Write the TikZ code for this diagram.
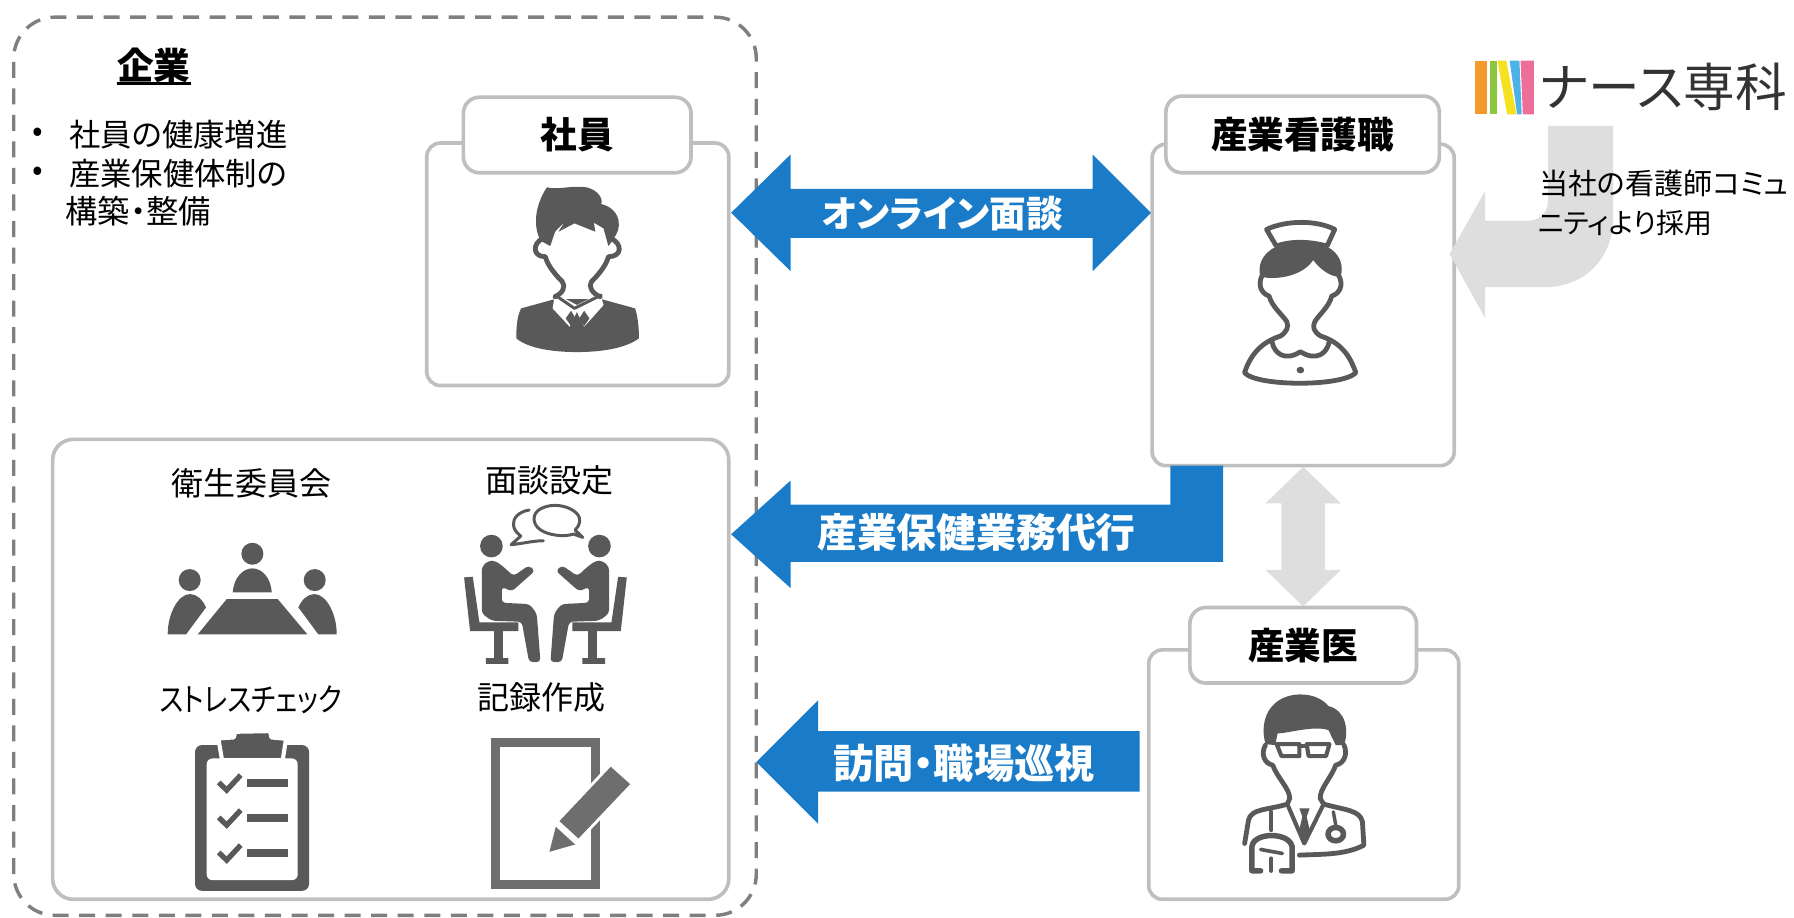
\documentclass[tikz,border=0pt]{standalone}
\usepackage{fontspec}
\setmainfont[RawFeature=+palt]{Noto Sans CJK JP}
\newfontfamily\narrowcjk[RawFeature=+palt,FakeStretch=0.83]{Noto Sans CJK JP}
\definecolor{edge}{HTML}{BFBFBF}
\definecolor{dashc}{HTML}{7F7F7F}
\definecolor{blueA}{HTML}{1A7CC8}
\definecolor{softg}{HTML}{DEDEDE}
\definecolor{ico}{HTML}{595959}
\definecolor{icoB}{HTML}{6E6E6E}
\definecolor{lgO}{HTML}{F39A2B}
\definecolor{lgG}{HTML}{8CC63F}
\definecolor{lgY}{HTML}{F5E11F}
\definecolor{lgB}{HTML}{4DB3E6}
\definecolor{lgP}{HTML}{EE6E9A}
\tikzset{
  panel/.style={draw=edge,line width=1.6pt,fill=white,rounded corners=6pt,inner sep=0pt,minimum width=#1},
  tagbox/.style={draw=edge,line width=1.6pt,fill=white,rounded corners=7pt,inner sep=0pt,font=\fontsize{16}{16}\selectfont\bfseries},
  bluearrow/.style={fill=blueA,draw=none},
  softarrow/.style={fill=softg,draw=none},
  wlabel/.style={text=white,inner sep=0pt,font=\bfseries},
  plain/.style={inner sep=0pt,font=\fontsize{13.7}{13.7}\selectfont},
  icofill/.style={fill=ico,draw=none},
  icoline/.style={draw=ico,fill=none,line cap=round,line join=round},
}
\begin{document}
\begin{tikzpicture}[x=0.5pt,y=-0.5pt]
\useasboundingbox (0,0) rectangle (1568,801.5);
% outer dashed
\draw[dashc,line width=1.5pt,dash pattern=on 7pt off 4.6pt,rounded corners=18pt] (12,800) rectangle (661,15);
% inner panel
\draw[edge,line width=1.6pt,fill=white,rounded corners=9pt] (46,384) rectangle (637,786);
\node[inner sep=0pt,font=\fontsize{16}{16}\selectfont\bfseries] (kigyo) at (134.5,57) {企業};
\draw[black,line width=1pt] (102,73) -- (167,73);
\node[plain,anchor=center] (b1) at (33,118) {•};
\node[plain,anchor=center] (b2) at (33,152) {•};
\node[plain,anchor=west] (t1) at (60,118) {社員の健康増進};
\node[plain,anchor=west] (t2) at (60,152) {産業保健体制の};
\node[plain,anchor=west,font=\fontsize{14.1}{14.1}\selectfont] (t3) at (57,185) {構築・整備};
% staff box
\node[panel=264*0.5pt,minimum height=106pt] (shainbox) at (505,231) {};
\node[tagbox,minimum width=99.5pt,minimum height=33pt] (shain) at (504.5,118) {社員};
% nurse box
\node[panel=264*0.5pt,minimum height=140.5pt] (kangobox) at (1139,266.5) {};
\node[tagbox,minimum width=119.5pt,minimum height=33.5pt] (kango) at (1138.5,117.5) {産業看護職};
% doctor box
\node[panel=271*0.5pt,minimum height=109pt] (ishibox) at (1139.5,677) {};
\node[tagbox,minimum width=99pt,minimum height=33pt] (ishi) at (1139,564) {産業医};
% blue arrows
\path[bluearrow] (639,186) -- (691,135) -- (691,165) -- (955,165) -- (955,135) -- (1006,186) -- (955,237) -- (955,208) -- (691,208) -- (691,237) -- cycle;
\node[wlabel,font=\fontsize{16}{16}\selectfont\bfseries] (mendan) at (823.5,187) {オンライン面談};
\path[bluearrow] (639,467) -- (691,420) -- (691,441) -- (1023,441) -- (1023,407) -- (1069,407) -- (1069,491) -- (691,491) -- (691,514) -- cycle;
\node[wlabel,font=\fontsize{17.4}{17.4}\selectfont\bfseries] (daiko) at (853.5,465.5) {産業保健業務代行};
\path[bluearrow] (661,666) -- (715,612) -- (715,639) -- (996,639) -- (996,692) -- (715,692) -- (715,720) -- cycle;
\node[wlabel,font=\fontsize{17.6}{17.6}\selectfont\bfseries] (homon) at (842.5,667) {訪問・職場巡視};
% grey arrows
\path[softarrow] (1139,408) -- (1172,440) -- (1158,440) -- (1158,498) -- (1172,498) -- (1139,530) -- (1106,498) -- (1120,498) -- (1120,440) -- (1106,440) -- cycle;
\path[softarrow] (1267,222) -- (1298,167) -- (1298,193) -- (1335,193) .. controls (1346,193) and (1353,186) .. (1353,175) -- (1353,110) -- (1410,110) -- (1410,190) .. controls (1410,226) and (1385,251) .. (1350,251) -- (1298,251) -- (1298,278) -- cycle;
\node[plain,anchor=west,font=\fontsize{12.7}{12.7}\selectfont] (saiyo1) at (1345,160) {当社の看護師コミュ};
\node[plain,anchor=west,font=\fontsize{12.2}{12.2}\selectfont] (saiyo2) at (1344,195) {ニティより採用};
% logo
\fill[lgO] (1289.5,53) rectangle (1300,100);
\fill[lgG] (1302.5,53) rectangle (1308,100);
\fill[lgY] (1308.8,53) -- (1316.5,53) -- (1325.4,100) -- (1317.3,100) -- cycle;
\fill[lgB] (1319.5,53) -- (1328,53) -- (1330,100) -- (1326,100) -- cycle;
\fill[lgP] (1329,53) -- (1340.6,53) -- (1340.6,100) -- (1331,100) -- cycle;
\node[inner sep=0pt,anchor=west,text=black!80,font=\fontsize{22.6}{22.6}\selectfont] (logo) at (1345,76) {ナース専科};
% item labels
\node[plain,font=\fontsize{14}{14}\selectfont] (eisei) at (219.5,422.5) {衛生委員会};
\node[plain,font=\fontsize{14}{14}\selectfont] (settei) at (480,419.5) {面談設定};
\node[plain,font=\fontsize{14}{14}\narrowcjk\selectfont] (stress) at (219.5,612) {ストレスチェック};
\node[plain,font=\fontsize{14}{14}\selectfont] (kiroku) at (473.5,610) {記録作成};
% ---- icons drawn in zoom-3 coordinates
\begin{scope}[shift={(113.64,393.36)},scale=0.2914]
 % conference
 \fill[ico] (367,311) circle (33);
 \path[icofill] (308,427) .. controls (312,380) and (340,355) .. (367,355) .. controls (394,355) and (422,380) .. (425,427) -- cycle;
 \path[icofill] (290,447) -- (443,447) -- (532,553) -- (203,553) -- cycle;
 \foreach \m/\s in {0/1,733/-1}{
  \begin{scope}[shift={(\m,0)},xscale=\s]
  \fill[ico] (179,390) circle (33);
  \path[icofill] (113,553) .. controls (113,490) and (145,432) .. (180,432) .. controls (202,432) and (218,450) .. (228,472) -- (168,553) -- cycle;
  \end{scope}
 }
 % meeting
 \foreach \m/\s in {0/1,2492/-1}{
  \begin{scope}[shift={(\m,0)},xscale=\s]
  \fill[ico] (1084,288) circle (34);
  \path[icofill,rounded corners=1.6pt] (1055,350) -- (1075,332) -- (1095,332) -- (1120,350) -- (1150,378) -- (1196,346) -- (1215,362) -- (1145,424) -- (1115,410) -- (1115,458) -- (1198,462) -- (1220,490) -- (1231,636) -- (1197,636) -- (1175,515) -- (1085,512) -- (1055,490) -- cycle;
  \path[icofill] (1002,382) -- (1028,380) -- (1048,517) -- (1165,517) -- (1165,543) -- (1118,543) -- (1118,624) -- (1135,624) -- (1135,641) -- (1067,641) -- (1067,624) -- (1092,624) -- (1092,543) -- (1020,543) -- cycle;
  \end{scope}
 }
 \draw[icoline,line width=1.3pt] (1330,252) .. controls (1300,262) and (1255,255) .. (1232,240) .. controls (1205,222) and (1205,190) .. (1232,176) .. controls (1265,158) and (1315,165) .. (1340,190) .. controls (1355,207) and (1350,225) .. (1335,240) -- (1358,262) -- cycle;
 \draw[icoline,line width=1.3pt] (1197,180) .. controls (1165,185) and (1148,205) .. (1150,225) .. controls (1152,240) and (1160,248) .. (1172,258) -- (1143,284) .. controls (1180,280) and (1210,272) .. (1240,272);
 % clipboard
 \fill[ico,rounded corners=3pt] (195,885) rectangle (537,1322);
 \fill[white,rounded corners=2.5pt] (230,925) rectangle (503,1290);
 \path[fill=ico,draw=white,line width=1.8pt,line join=round] (265,865) -- (311,862) -- (316,845) -- (420,843) -- (424,862) -- (468,866) -- (458,930) -- (276,930) -- cycle;
 \foreach \d in {0,105,210}{
  \draw[ico,line width=2.3pt] (266,997+\d) -- (290,1020+\d) -- (332,975+\d);
  \fill[ico] (352,988+\d) rectangle (475,1012+\d);
 }
 % note
 \draw[icoB,line width=4.2pt,fill=white] (1096,877) rectangle (1396,1303);
 \path[fill=icoB,draw=white,line width=2.6pt,line join=miter] (1442,950) -- (1500,1002) -- (1345,1165) -- (1288,1113) -- cycle;
 \fill[white] (1271,1120) -- (1345,1190) -- (1250,1215) -- cycle;
 \path[fill=icoB] (1277,1130) -- (1335,1183) -- (1258,1205) -- cycle;
 \path[fill=icoB] (1442,950) -- (1500,1002) -- (1345,1165) -- (1288,1113) -- cycle;
\end{scope}
% ---- man icon, zoom-1 coordinates
\begin{scope}[xscale=0.4237,yscale=0.2914]
 \path[icofill] (1065,1015) .. controls (1065,970) and (1068,945) .. (1075,925) -- (1145,897) -- (1240,897) -- (1310,925) .. controls (1316,950) and (1318,985) .. (1318,1015) .. controls (1290,1045) and (1240,1056) .. (1190,1056) .. controls (1140,1056) and (1090,1045) .. (1065,1015) -- cycle;
 \path[fill=white] (1145,880) -- (1190,915) -- (1238,880) -- (1245,915) -- (1205,980) -- (1190,935) -- (1175,980) -- (1140,925) -- cycle;
 \path[fill=ico] (1178,932) -- (1187,955) -- (1178,978) -- (1167,955) -- cycle;
 \path[fill=ico] (1205,932) -- (1216,955) -- (1205,978) -- (1195,955) -- cycle;
 \draw[icoline,line width=2.1pt] (1120,715) .. controls (1098,730) and (1098,770) .. (1125,770) .. controls (1130,800) and (1150,830) .. (1160,845) .. controls (1168,860) and (1160,880) .. (1145,890);
 \draw[icoline,line width=2.1pt] (1260,715) .. controls (1284,730) and (1284,770) .. (1255,770) .. controls (1250,800) and (1230,830) .. (1220,845) .. controls (1213,860) and (1222,880) .. (1238,890);
 \draw[icoline,line width=1.3pt] (1145,885) -- (1185,925) -- (1240,885);
 \path[icofill] (1128,562) .. controls (1155,570) and (1180,555) .. (1210,562) .. controls (1235,570) and (1245,600) .. (1240,612) .. controls (1265,620) and (1282,650) .. (1275,690) .. controls (1270,710) and (1262,725) .. (1255,738) -- (1245,685) -- (1225,668) -- (1228,695) -- (1185,670) -- (1152,695) -- (1165,665) -- (1145,695) -- (1135,738) -- (1115,722) .. controls (1100,680) and (1102,620) .. (1128,562) -- cycle;
\end{scope}
% ---- nurse, zoom-2 coordinates
\begin{scope}[shift={(987.76,34.97)},xscale=0.3702,yscale=0.2914]
 \path[icofill] (345,620) .. controls (310,640) and (300,680) .. (308,710) .. controls (350,722) and (410,705) .. (432,660) .. controls (450,690) and (475,712) .. (497,710) .. controls (505,675) and (495,640) .. (465,620) .. controls (420,605) and (380,605) .. (345,620) -- cycle;
 \draw[icoline,line width=2.1pt,fill=white] (322,568) .. controls (370,540) and (440,540) .. (483,568) -- (465,618) .. controls (420,603) and (380,603) .. (345,618) -- cycle;
 \draw[icoline,line width=2.1pt] (312,705) .. controls (300,735) and (310,760) .. (328,768) .. controls (335,800) and (360,825) .. (370,845) .. controls (375,860) and (370,875) .. (355,888) .. controls (300,910) and (280,960) .. (270,998) .. controls (300,1040) and (500,1040) .. (533,998) .. controls (522,960) and (505,910) .. (450,888) .. controls (433,875) and (430,860) .. (436,845) .. controls (445,825) and (470,800) .. (476,768) .. controls (495,760) and (505,735) .. (492,705);
 \draw[icoline,line width=2.1pt] (335,905) .. controls (340,940) and (365,965) .. (402,935) .. controls (440,965) and (465,940) .. (470,905);
 \fill[ico] (402,990) ellipse (9 and 10);
\end{scope}
% ---- doctor, zoom-4 coordinates
\begin{scope}[shift={(629.37,393.36)},xscale=0.4237,yscale=0.2914]
 \path[icofill] (1125,882) .. controls (1110,800) and (1140,735) .. (1195,733) .. controls (1225,732) and (1245,750) .. (1255,768) .. controls (1290,780) and (1298,840) .. (1287,885) -- (1270,885) -- (1255,840) .. controls (1225,825) and (1170,850) .. (1150,850) -- (1145,885) -- cycle;
 \draw[icoline,line width=1.8pt] (1148,882) -- (1195,882) -- (1195,918) -- (1158,918) -- cycle;
 \draw[icoline,line width=1.8pt] (1210,882) -- (1257,882) -- (1250,918) -- (1214,918) -- cycle;
 \draw[icoline,line width=1.8pt] (1195,888) -- (1210,888);
 \draw[icoline,line width=2.1pt] (1125,885) .. controls (1115,910) and (1122,940) .. (1140,945) .. controls (1150,985) and (1175,1015) .. (1175,1045) -- (1170,1062) .. controls (1130,1080) and (1095,1075) .. (1090,1110) -- (1082,1180);
 \draw[icoline,line width=2.1pt] (1287,885) .. controls (1295,910) and (1288,940) .. (1270,945) .. controls (1260,985) and (1237,1015) .. (1238,1045) -- (1245,1062) .. controls (1290,1080) and (1320,1080) .. (1325,1115) -- (1328,1185) .. controls (1290,1215) and (1240,1212) .. (1195,1215);
 \draw[icoline,line width=1.8pt] (1170,1062) -- (1205,1180) -- (1245,1062);
 \path[icofill] (1195,1075) -- (1216,1075) -- (1210,1100) -- (1218,1150) -- (1205,1172) -- (1193,1150) -- (1201,1100) -- cycle;
 \draw[icoline,line width=1.8pt] (1137,1085) -- (1137,1140);
 \draw[icoline,line width=2.4pt] (1115,1262) -- (1097,1262) -- (1097,1190) .. controls (1100,1145) and (1175,1145) .. (1180,1190) -- (1180,1262) -- (1158,1262);
 \draw[icoline,line width=1.8pt] (1137,1225) -- (1137,1262);
 \draw[icoline,line width=1.6pt] (1115,1198) -- (1160,1210);
 \draw[icoline,line width=1.5pt] (1265,1085) -- (1270,1125);
 \draw[icoline,line width=2.4pt] (1270,1152) ellipse (16 and 20);
\end{scope}
\end{tikzpicture}
\end{document}
